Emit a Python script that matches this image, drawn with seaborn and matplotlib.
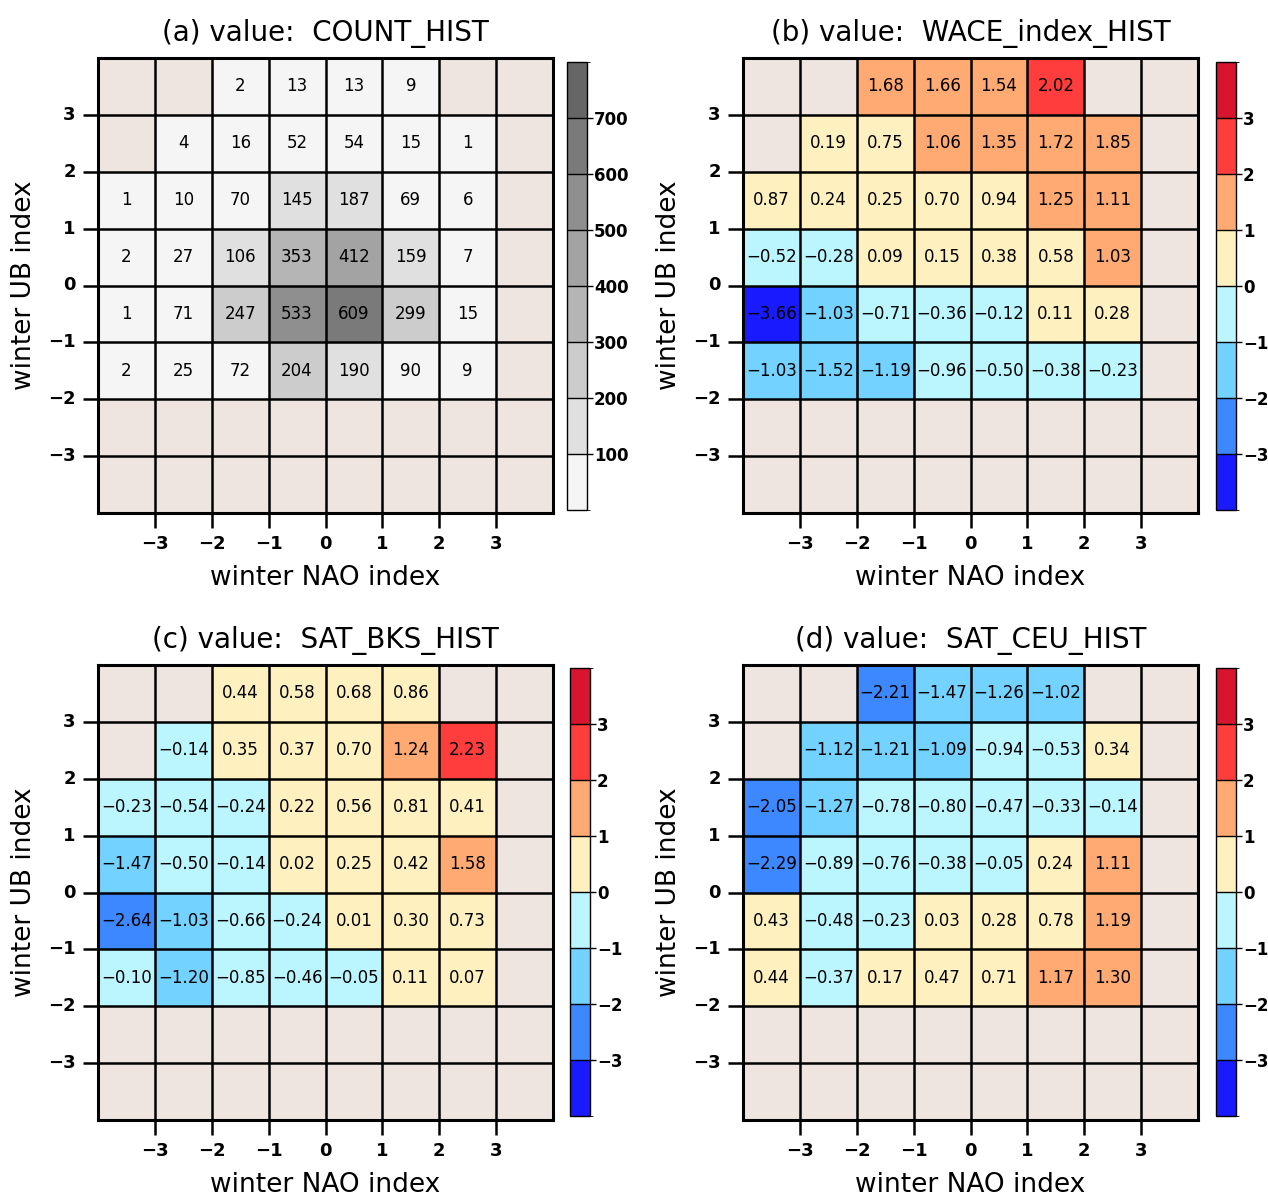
#================================匯入函數===============================
import numpy as np
import pandas as pd
import matplotlib
matplotlib.use("Agg")
import matplotlib.pyplot as plt
from matplotlib.colors import ListedColormap, BoundaryNorm
import seaborn as sns
#======================================================================

nan = np.nan

# 格子邊界: NAO (x) 與 UB (y) 都是 -4..4，每格寬 1
nao_bins = [-3.5, -2.5, -1.5, -0.5, 0.5, 1.5, 2.5, 3.5]   # 欄中心
ub_bins = [3.5, 2.5, 1.5, 0.5, -0.5, -1.5, -2.5, -3.5]    # 列中心 (由上而下)
tick_vals = [-3, -2, -1, 0, 1, 2, 3]

titles = ["(a) value:  COUNT_HIST", "(b) value:  WACE_index_HIST",
          "(c) value:  SAT_BKS_HIST", "(d) value:  SAT_CEU_HIST"]

count_hist = [
    [nan, nan, 2, 13, 13, 9, nan, nan],
    [nan, 4, 16, 52, 54, 15, 1, nan],
    [1, 10, 70, 145, 187, 69, 6, nan],
    [2, 27, 106, 353, 412, 159, 7, nan],
    [1, 71, 247, 533, 609, 299, 15, nan],
    [2, 25, 72, 204, 190, 90, 9, nan],
    [nan] * 8,
    [nan] * 8,
]

wace_hist = [
    [nan, nan, 1.68, 1.66, 1.54, 2.02, nan, nan],
    [nan, 0.19, 0.75, 1.06, 1.35, 1.72, 1.85, nan],
    [0.87, 0.24, 0.25, 0.70, 0.94, 1.25, 1.11, nan],
    [-0.52, -0.28, 0.09, 0.15, 0.38, 0.58, 1.03, nan],
    [-3.66, -1.03, -0.71, -0.36, -0.12, 0.11, 0.28, nan],
    [-1.03, -1.52, -1.19, -0.96, -0.50, -0.38, -0.23, nan],
    [nan] * 8,
    [nan] * 8,
]

sat_bks_hist = [
    [nan, nan, 0.44, 0.58, 0.68, 0.86, nan, nan],
    [nan, -0.14, 0.35, 0.37, 0.70, 1.24, 2.23, nan],
    [-0.23, -0.54, -0.24, 0.22, 0.56, 0.81, 0.41, nan],
    [-1.47, -0.50, -0.14, 0.02, 0.25, 0.42, 1.58, nan],
    [-2.64, -1.03, -0.66, -0.24, 0.01, 0.30, 0.73, nan],
    [-0.10, -1.20, -0.85, -0.46, -0.05, 0.11, 0.07, nan],
    [nan] * 8,
    [nan] * 8,
]

sat_ceu_hist = [
    [nan, nan, -2.21, -1.47, -1.26, -1.02, nan, nan],
    [nan, -1.12, -1.21, -1.09, -0.94, -0.53, 0.34, nan],
    [-2.05, -1.27, -0.78, -0.80, -0.47, -0.33, -0.14, nan],
    [-2.29, -0.89, -0.76, -0.38, -0.05, 0.24, 1.11, nan],
    [0.43, -0.48, -0.23, 0.03, 0.28, 0.78, 1.19, nan],
    [0.44, -0.37, 0.17, 0.47, 0.71, 1.17, 1.30, nan],
    [nan] * 8,
    [nan] * 8,
]

#================================色階===============================
gray_colors = ["#F5F5F5", "#E0E0E0", "#CCCCCC", "#B5B5B5",
               "#A3A3A3", "#8F8F8F", "#7A7A7A", "#666666"]
gray_levels = [0, 100, 200, 300, 400, 500, 600, 700, 800]
gray_ticks = [100, 200, 300, 400, 500, 600, 700]

div_colors = ["#1A1AFF", "#3D87FF", "#73D2FF", "#BBF6FF",
              "#FFF1BF", "#FFAA73", "#FF3D3D", "#D7152F"]
div_levels = [-4, -3, -2, -1, 0, 1, 2, 3, 4]
div_ticks = [-3, -2, -1, 0, 1, 2, 3]

missing_color = "#EEE5E0"
#======================================================================


def minus(t):
    # 使用 unicode 負號
    return str(t).replace("-", "\u2212")


sns.set_style("white")
plt.rcParams["font.family"] = ["DejaVu Sans"]
plt.rcParams["axes.linewidth"] = 2
plt.rcParams["text.color"] = "black"
plt.rcParams["axes.labelcolor"] = "black"
plt.rcParams["xtick.color"] = "black"
plt.rcParams["ytick.color"] = "black"

fig = plt.figure(figsize=(12.68, 12), dpi=100)

W, H = 1268.0, 1200.0
# 各圖位置 (像素): 左, 上
panel_px = [(98, 58), (743, 58), (98, 665), (743, 665)]
cbar_px = [(567, 62), (1216, 62), (570, 668), (1216, 668)]

panels = [
    (count_hist, gray_colors, gray_levels, gray_ticks, "int"),
    (wace_hist, div_colors, div_levels, div_ticks, "f2"),
    (sat_bks_hist, div_colors, div_levels, div_ticks, "f2"),
    (sat_ceu_hist, div_colors, div_levels, div_ticks, "f2"),
]

for i, (vals, colors, levels, cticks, kind) in enumerate(panels):
    df = pd.DataFrame(vals, index=ub_bins, columns=nao_bins)

    # 格子內的文字
    labels = []
    for row in vals:
        lab_row = []
        for v in row:
            if np.isnan(v):
                lab_row.append("")
            elif kind == "int":
                lab_row.append(f"{int(v)}")
            else:
                lab_row.append(minus(f"{v:.2f}"))
        labels.append(lab_row)
    labels = np.array(labels)

    px, py = panel_px[i]
    ax = fig.add_axes([px / W, 1 - (py + 455) / H, 455 / W, 455 / H])
    cx, cy = cbar_px[i]
    cax = fig.add_axes([cx / W, 1 - (cy + 448) / H, 20 / W, 448 / H])

    cmap = ListedColormap(colors)
    norm = BoundaryNorm(levels, cmap.N)

    ax.set_facecolor(missing_color)
    sns.heatmap(df, ax=ax, cmap=cmap, norm=norm, annot=labels, fmt="",
                annot_kws={"color": "black", "fontsize": 12},
                linewidths=0,
                cbar_ax=cax, cbar_kws={"ticks": cticks, "drawedges": True})

    # 格線 (含缺值格)
    pos = np.arange(1, 8)
    ax.set_xticks(pos)
    ax.set_xticklabels([minus(t) for t in tick_vals], rotation=0, fontweight="bold")
    ax.set_yticks(pos)
    ax.set_yticklabels([minus(t) for t in tick_vals[::-1]], rotation=0, fontweight="bold")
    ax.grid(True, color="black", linewidth=1.8)
    ax.set_axisbelow(False)
    ax.tick_params(axis="both", length=11, width=1.8, direction="out",
                   labelsize=13, pad=5, bottom=True, left=True, color="black")
    for s in ax.spines.values():
        s.set_visible(True)
        s.set_linewidth(2.2)
        s.set_color("black")

    ax.set_title(titles[i], fontsize=20, pad=12)
    ax.set_xlabel("winter NAO index", fontsize=19)
    ax.set_ylabel("winter UB index", fontsize=19)
    ax.xaxis.set_label_coords(0.5, -0.115)
    ax.yaxis.set_label_coords(-0.135, 0.5)

    # 色條
    cb = ax.collections[0].colorbar
    cb.outline.set_linewidth(1)
    cb.outline.set_edgecolor("black")
    cb.dividers.set_color("black")
    cb.dividers.set_linewidth(1)
    cb.ax.tick_params(length=4, width=1, labelsize=12, pad=1)
    cb.ax.set_yticklabels([minus(t) for t in cticks], fontweight="bold")

plt.savefig("out.png", dpi=100)
plt.close()
